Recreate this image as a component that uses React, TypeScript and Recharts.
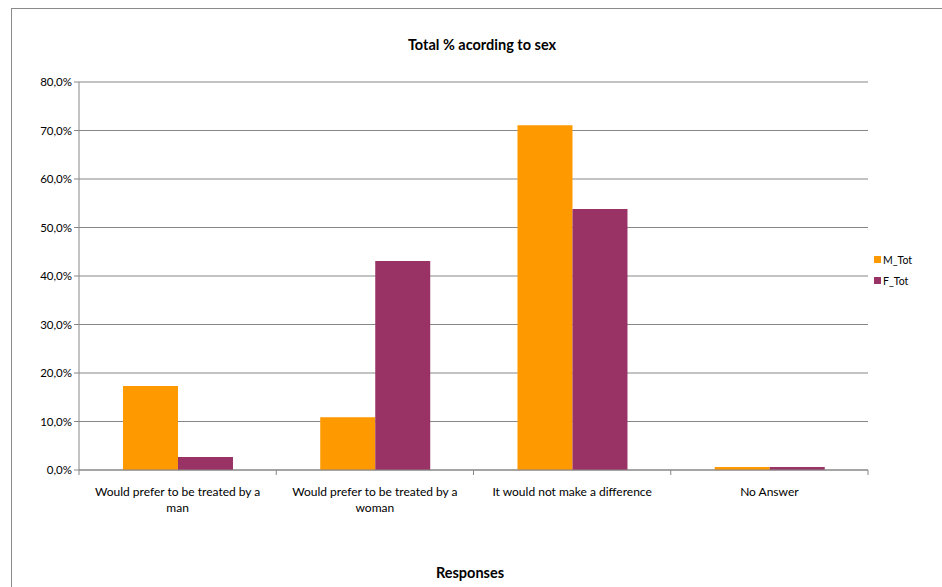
import React from "react";
import { BarChart, Bar, XAxis, YAxis, CartesianGrid } from "recharts";

const categories = [
  "Would prefer to be treated by a man",
  "Would prefer to be treated by a woman",
  "It would not make a difference",
  "No Answer",
];
const tickLabelLines = [
  ["Would prefer to be treated by a", "man"],
  ["Would prefer to be treated by a", "woman"],
  ["It would not make a difference"],
  ["No Answer"],
];
const mTot = [17.3, 10.9, 71.1, 0.6];
const fTot = [2.7, 43.1, 53.8, 0.6];
const yTicks = [0, 10, 20, 30, 40, 50, 60, 70, 80];
const seriesNames = ["M_Tot", "F_Tot"];
const seriesColors = ["#FF9900", "#993366"];

const data = categories.map((c, i) => ({ name: c, M_Tot: mTot[i], F_Tot: fTot[i] }));

const FONT = "Lato, 'Liberation Sans', sans-serif";
const GRAY = "#878787";

const fmt = (v: number) => v.toFixed(1).replace(".", ",") + "%";

const XTick = (props: any) => {
  const { x, y, index, visibleTicksCount } = props;
  const band = 789 / 4;
  const half = band / 2;
  const lines = tickLabelLines[index] || [];
  return (
    <g>
      <line x1={x - half} y1={y - 8} x2={x - half} y2={y - 3} stroke={GRAY} />
      {index === (visibleTicksCount ?? 4) - 1 && (
        <line x1={x + half} y1={y - 8} x2={x + half} y2={y - 3} stroke={GRAY} />
      )}
      <text x={x} y={y + 18} textAnchor="middle" fontSize={12} fontFamily={FONT} fill="#000">
        {lines.map((l, i) => (
          <tspan key={i} x={x} dy={i === 0 ? 0 : 16}>
            {l}
          </tspan>
        ))}
      </text>
    </g>
  );
};

export default function App() {
  return (
    <div style={{ position: "absolute", left: 0, top: 0, width: 942, height: 587, overflow: "hidden", background: "#fff" }}>
      <div
        style={{
          position: "absolute",
          left: 11,
          top: 8,
          width: 960,
          height: 620,
          border: "1.5px solid #8a8a8a",
          boxSizing: "border-box",
        }}
      />
      <div
        style={{
          position: "absolute",
          left: 0,
          top: 36,
          width: 964,
          textAlign: "center",
          fontFamily: FONT,
          fontWeight: "bold",
          fontSize: 14.5,
        }}
      >
        Total % acording to sex
      </div>
      <div
        style={{
          position: "absolute",
          left: 0,
          top: 564,
          width: 940,
          textAlign: "center",
          fontFamily: FONT,
          fontWeight: "bold",
          fontSize: 14.5,
        }}
      >
        Responses
      </div>
      <div style={{ position: "absolute", left: 874, top: 249, fontFamily: FONT, fontSize: 10.5, color: "#000" }}>
        {seriesNames.map((n, i) => (
          <div key={n} style={{ display: "flex", alignItems: "center", height: 21 }}>
            <span style={{ display: "inline-block", width: 7, height: 7, background: seriesColors[i], marginRight: 2 }} />
            <span>{n}</span>
          </div>
        ))}
      </div>
      <div style={{ position: "absolute", left: 0, top: 0 }}>
        <BarChart
          width={942}
          height={587}
          data={data}
          margin={{ top: 82, right: 74, bottom: 0, left: 17 }}
          barCategoryGap="22.3%"
          barGap={0}
        >
          <CartesianGrid vertical={false} stroke={GRAY} strokeWidth={1} />
          <XAxis
            dataKey="name"
            tickLine={false}
            axisLine={{ stroke: GRAY }}
            tick={<XTick />}
            interval={0}
            height={117}
          />
          <YAxis
            width={62}
            domain={[0, 80]}
            ticks={yTicks}
            tickFormatter={fmt}
            axisLine={{ stroke: GRAY }}
            tickLine={{ stroke: GRAY }}
            tickSize={5}
            tick={{ fontSize: 11.5, fontFamily: FONT, fill: "#000" }}
            interval={0}
          />
          <Bar dataKey="M_Tot" fill={seriesColors[0]} isAnimationActive={false} />
          <Bar dataKey="F_Tot" fill={seriesColors[1]} isAnimationActive={false} />
        </BarChart>
      </div>
    </div>
  );
}
